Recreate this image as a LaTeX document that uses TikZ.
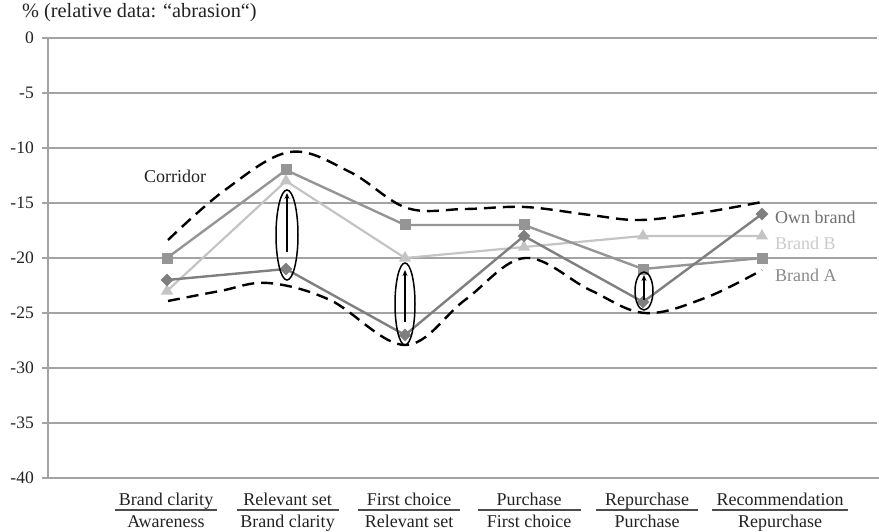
\documentclass[tikz,border=0pt]{standalone}
\usepackage{fontspec}
\setmainfont{Liberation Serif}
\usetikzlibrary{shapes.geometric,arrows.meta}

\definecolor{gridgray}{HTML}{A3A3A3}
\definecolor{owncol}{HTML}{7F7F7F}
\definecolor{acol}{HTML}{959595}
\definecolor{bcol}{HTML}{C4C4C4}
\definecolor{owntxt}{HTML}{707070}
\definecolor{atxt}{HTML}{8A8A8A}
\definecolor{btxt}{HTML}{CACACA}
\definecolor{ink}{HTML}{222222}

\tikzset{
  gridline/.style={draw=gridgray, line width=1.6pt},
  ticklabel/.style={anchor=east, font=\fontsize{17.5}{20}\selectfont, text=ink, inner sep=0pt},
  catlabel/.style={anchor=base, font=\fontsize{18}{21}\selectfont, text=ink, inner sep=0pt},
  catrule/.style={draw=black!70, line width=1.2pt},
  ownline/.style={draw=owncol, line width=2.4pt},
  aline/.style={draw=acol, line width=2.4pt},
  bline/.style={draw=bcol, line width=2.2pt},
  ownmark/.style={shape=diamond, fill=owncol, inner sep=0pt, minimum size=13pt},
  amark/.style={shape=rectangle, fill=acol, inner sep=0pt, minimum size=11pt},
  bmark/.style={shape=regular polygon, regular polygon sides=3, fill=bcol, inner sep=0pt, minimum size=14pt},
  corridor/.style={draw=black, line width=2.4pt, dash pattern=on 12pt off 7pt},
  lens/.style={draw=black, line width=1.5pt},
  riser/.style={draw=black, line width=1.5pt, -{Stealth[length=6pt,width=5pt]}},
  legend/.style={anchor=west, font=\fontsize{18}{21}\selectfont, inner sep=0pt}
}

\begin{document}
\begin{tikzpicture}[x=1pt,y=-1pt]
\useasboundingbox (0,0) rectangle (879,532);

% horizontal grid, ticks and value labels
\foreach \k in {0,...,7}{
  \pgfmathsetmacro{\yy}{38+55*\k}
  \pgfmathtruncatemacro{\val}{-5*\k}
  \draw[gridline] (48,\yy) -- (877,\yy);
  \draw[gridline] (42,\yy) -- (48,\yy);
  \node[ticklabel] (t\k) at (34,\yy) {\val};
}
\draw[gridline] (42,478) -- (48,478);
\node[ticklabel] (t8) at (34,478) {-40};
% axes
\draw[gridline] (48,38) -- (48,478);
\draw[gridline] (48,478) -- (879,478);

% axis title
\node[anchor=base west, font=\fontsize{20.3}{23}\selectfont, text=ink, inner sep=0pt] (title) at (22,18) {\% (relative data: “abrasion“)};

% category labels as ratios
\foreach \i/\cx/\hw/\num/\den in {
  1/166/51/Brand clarity/Awareness,
  2/287.5/51/Relevant set/Brand clarity,
  3/409/51/First choice/Relevant set,
  4/529/51.5/Purchase/First choice,
  5/647/51/Repurchase/Purchase,
  6/780/68/Recommendation/Repurchase}{
  \node[catlabel] (n\i) at (\cx,505) {\num};
  \node[catlabel] (d\i) at (\cx,527) {\den};
  \coordinate (ra\i) at (\cx-\hw,510);
  \coordinate (rb\i) at (\cx+\hw,510);
  \draw[catrule] (ra\i) -- (rb\i);
}

% corridor bounds
\draw[corridor] plot[smooth, tension=0.6] coordinates {(168,240) (225,190) (290,152) (350,172) (407,208) (465,209) (525,207) (590,215) (640,220) (700,213) (762,202)};
\draw[corridor] plot[smooth, tension=0.6] coordinates {(168,301) (220,291) (268,283) (330,300) (405,345) (465,300) (525,258) (590,290) (645,313) (705,298) (762,270)};
\node[font=\fontsize{18}{21}\selectfont, text=ink] (corr) at (175,176) {Corridor};

% data points
\foreach \i/\x/\yo/\ya/\yb in {
  1/167/280/258/291,
  2/286/269/170/181,
  3/405/335/225/258,
  4/524/236/225/247,
  5/643/302/269/236,
  6/762/214/258/236}{
  \coordinate (o\i) at (\x,\yo);
  \coordinate (a\i) at (\x,\ya);
  \coordinate (b\i) at (\x,\yb);
}
\draw[bline] (b1) -- (b2) -- (b3) -- (b4) -- (b5) -- (b6);
\draw[aline] (a1) -- (a2) -- (a3) -- (a4) -- (a5) -- (a6);
\draw[ownline] (o1) -- (o2) -- (o3) -- (o4) -- (o5) -- (o6);
\foreach \i in {1,...,6}{
  \node[bmark] (bm\i) at (b\i) {};
  \node[amark] (am\i) at (a\i) {};
  \node[ownmark] (om\i) at (o\i) {};
}

% gaps to close
\draw[lens] (287,235) ellipse [x radius=11, y radius=45];
\coordinate (g1s) at (287,252); \coordinate (g1e) at (287,193);
\draw[riser] (g1s) -- (g1e);
\draw[lens] (405,304) ellipse [x radius=10, y radius=41];
\coordinate (g2s) at (405,322); \coordinate (g2e) at (405,270);
\draw[riser] (g2s) -- (g2e);
\draw[lens] (644,291) ellipse [x radius=9, y radius=19];
\coordinate (g3s) at (644,300); \coordinate (g3e) at (644,275);
\draw[riser] (g3s) -- (g3e);

% series names
\node[legend, text=owntxt] (lo) at (775,217) {Own brand};
\node[legend, text=btxt] (lb) at (775,243) {Brand B};
\node[legend, text=atxt] (la) at (775,275) {Brand A};
\end{tikzpicture}
\end{document}
